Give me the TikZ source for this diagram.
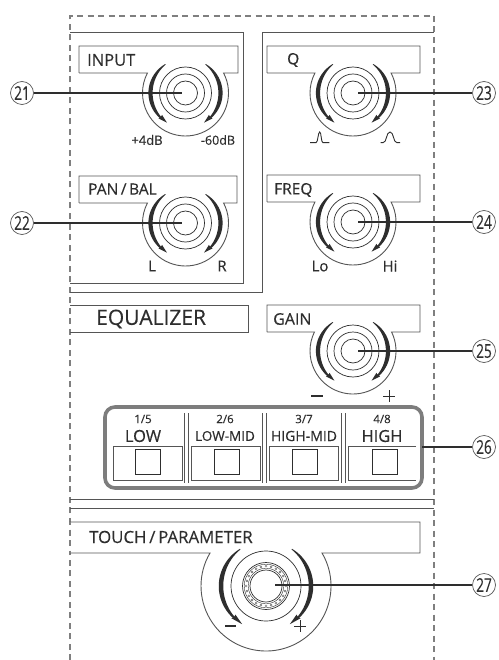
\documentclass[tikz,border=0pt]{standalone}
\usepackage{fontspec}
\setmainfont[FakeBold=0.3]{Open Sans}
\newcommand{\fs}[1]{\fontsize{#1}{#1}\selectfont}
\definecolor{ink}{HTML}{2E2E2E}
\definecolor{boxline}{HTML}{555555}
\definecolor{dashc}{HTML}{7F7F7F}
\definecolor{bezel}{HTML}{7D7D7D}
\tikzset{
  panel/.style={draw=boxline,line width=0.9pt},
  thin ring/.style={draw=ink,line width=0.7pt},
  leader/.style={draw=ink,line width=1.2pt},
  callout/.style={circle,draw=ink!80,line width=0.7pt,minimum size=23pt,inner sep=0pt,text=ink},
  lab/.style={inner sep=0pt,text=ink,font=\fs{15}},
  title/.style={inner sep=0pt,text=ink,anchor=west,font=\fs{15.5}},
  outline/.style={draw=dashc,line width=1.4pt,dash pattern=on 6pt off 4.5pt},
}
\newcommand{\num}[1]{\fs{19}\scalebox{.72}[1]{#1}}
% #1 cx #2 cy #3 R #4 max width #5 side (+1 left, -1 right)
\newcommand{\tharc}[5]{%
  \fill[ink] plot[domain=-55:44,samples=24]
    ({#1-#5*(#3+#4/2*cos(1.45*\x))*cos(\x)},{#2+(#3+#4/2*cos(1.45*\x))*sin(\x)})
    -- ({#1-#5*(#3+#4*0.5)*cos(43)},{#2+(#3+#4*0.5)*sin(43)})
    -- ({#1-#5*#3*cos(58)},{#2+#3*sin(58)})
    -- ({#1-#5*(#3-#4*0.7)*cos(43)},{#2+(#3-#4*0.7)*sin(43)})
    -- plot[domain=44:-55,samples=24]
    ({#1-#5*(#3-#4/2*cos(1.45*\x))*cos(\x)},{#2+(#3-#4/2*cos(1.45*\x))*sin(\x)})
    -- cycle;}
% #1 l #2 t #3 r #4 b #5 cx #6 cy #7 R
\newcommand{\notchbox}[7]{%
  \pgfmathsetmacro{\aa}{asin((#4-#6)/#7)}%
  \pgfmathsetmacro{\ab}{180-\aa}%
  \pgfmathsetmacro{\sx}{#5+#7*cos(\aa)}%
  \draw[panel] (#1,#4) -- (#1,#2) -- (#3,#2) -- (#3,#4) -- (\sx,#4)
    arc[start angle=\aa,end angle=\ab,radius=#7] -- (#1,#4);}
\newcommand{\knob}[2]{%
  \draw[thin ring] (#1,#2) circle[radius=26];
  \draw[thin ring] (#1,#2) circle[radius=19];
  \draw[thin ring] (#1,#2) circle[radius=12];
  \tharc{#1}{#2}{35}{4.2}{1}
  \tharc{#1}{#2}{35}{4.2}{-1}}
\begin{document}
\begin{tikzpicture}[x=1pt,y=1pt,yscale=-1]
\useasboundingbox (0,0) rectangle (498,660);
\fill[white] (0,0) rectangle (498,660);
% dashed outline
\draw[outline] (70,660) -- (70,16) -- (434,16) -- (434,660);
% panels
\draw[panel] (70,32) -- (243,32) -- (243,283) -- (70,283);
\draw[panel] (70,292) -- (262,292) -- (262,32) -- (434,32);
\draw[panel] (70,499) -- (434,499);
\draw[panel] (70,508) -- (434,508);
% INPUT
\notchbox{79}{46}{238}{73}{185.5}{93}{43}
\knob{185.5}{93}
\node[title,font=\fs{16.5}] (tinput) at (87,60) {INPUT};
\node[lab,font=\fs{13}] (lp4) at (147,140) {+4dB};
\node[lab,font=\fs{12.5}] (lm60) at (218,140) {-60dB};
% PAN/BAL
\notchbox{79}{176}{237}{203}{185.5}{223}{43}
\knob{185.5}{223}
\node[title] (tpan) at (88,189) {PAN\,/\,BAL};
\node[lab] (ll) at (152,266) {L};
\node[lab] (lr) at (222,266) {R};
% Q
\notchbox{267}{46}{420}{73}{353}{93}{43}
\knob{353}{93}
\node[title] (tq) at (287,60) {Q};
\draw[ink,line width=0.9pt] (310,142.7) -- (316,142.7) .. controls (318,142.7) and (318,132) .. (319.7,132) .. controls (321.4,132) and (321,142.7) .. (323,142.7) -- (329.3,142.7);
\draw[ink,line width=0.9pt] (380.7,142.7) -- (383,142.7) .. controls (387,142.7) and (386,132) .. (390,132) .. controls (394,132) and (393,142.7) .. (397,142.7) -- (400,142.7);
% FREQ
\notchbox{267}{175}{420}{202}{353}{222}{43}
\knob{353}{222}
\node[title] (tfreq) at (274,190) {FREQ};
\node[lab] (llo) at (320,266) {Lo};
\node[lab] (lhi) at (390,266) {Hi};
% EQUALIZER
\draw[panel] (70,305) -- (248,305) -- (248,332) -- (70,332);
\node[title,font=\fs{21}] (teq) at (96,319) {EQUALIZER};
% GAIN
\notchbox{267}{305}{420}{332}{353}{351}{43}
\knob{353}{351}
\node[title,font=\fs{16}] (tgain) at (273,319) {GAIN};
\draw[ink,line width=1.6pt] (311,396) -- (323,396);
\draw[ink,line width=0.9pt] (383,396) -- (395,396) (389,390) -- (389,402);
% button bank
\draw[draw=bezel,line width=3.6pt,rounded corners=10pt] (105,407) rectangle (422,488);
\foreach \xa in {184,188,262,266,341,345} {\draw[boxline,line width=0.8pt] (\xa,413) -- (\xa,483);}
\foreach \xl/\xr/\sl in {113/182/135,191/260/214,269/338/292} {
  \draw[panel] (\xl,480) -- (\xl,446) -- (\xr,446) -- (\xr,480) -- (\xl,480);
  \draw[ink,line width=0.8pt] (\sl,449) rectangle ++(25,25);
}
\draw[panel] (416,446) -- (348,446) -- (348,480) -- (416,480);
\draw[ink,line width=0.8pt] (372,449) rectangle ++(25,25);
\node[lab,font=\fs{11.5}] (b1a) at (143,419) {1/5};
\node[lab,font=\fs{16.5}] (b1b) at (143,436) {LOW};
\node[lab,font=\fs{11.5}] (b2a) at (225,419) {2/6};
\node[lab,font=\fs{13.5}] (b2b) at (225,436) {LOW-MID};
\node[lab,font=\fs{11.5}] (b3a) at (304,419) {3/7};
\node[lab,font=\fs{14}] (b3b) at (304,436) {HIGH-MID};
\node[lab,font=\fs{11.5}] (b4a) at (382,419) {4/8};
\node[lab,font=\fs{16.5}] (b4b) at (382,436) {HIGH};
% TOUCH
\notchbox{70}{522}{420}{553}{266}{586}{65}
\fill[white] (68,523) rectangle (71.2,552);
\draw[outline,dash phase=3pt] (70,522) -- (70,553);
\node[title,font=\fs{16.8}] (ttouch) at (89,537) {TOUCH\,/\,PARAMETER};
\draw[thin ring] (266,586) circle[radius=35];
\draw[thin ring] (266,586) circle[radius=23.5];
\draw[thin ring,line width=0.4pt] (266,586) circle[radius=21.8];
\draw[thin ring,line width=0.4pt] (266,586) circle[radius=17.8];
\draw[thin ring] (266,586) circle[radius=16];
\foreach \t in {0,15,...,345} {\draw[ink!70,line width=0.4pt] ({266+19.8*cos(\t)},{586+19.8*sin(\t)}) circle[radius=1];}
\tharc{266}{586}{45}{4.5}{1}
\tharc{266}{586}{45}{4.5}{-1}
\draw[ink,line width=1.6pt] (225,626) -- (236,626);
\draw[ink,line width=0.9pt] (294,626) -- (306,626) (300,620) -- (300,632);
% connection points
\coordinate (k21) at (182,93);
\coordinate (k22) at (182,223);
\coordinate (k23) at (358,93);
\coordinate (k24) at (358,222);
\coordinate (k25) at (358,351);
\coordinate (k26) at (422,447);
\coordinate (k27) at (275,585);
% callouts
\node[callout] (n21) at (22,93) {\num{21}};
\node[callout] (n22) at (22,223) {\num{22}};
\node[callout] (n23) at (484,93) {\num{23}};
\node[callout] (n24) at (484,222) {\num{24}};
\node[callout] (n25) at (484,351) {\num{25}};
\node[callout] (n26) at (484,447) {\num{26}};
\node[callout] (n27) at (484,585) {\num{27}};
\draw[leader] (n21) -- (k21);
\draw[leader] (n22) -- (k22);
\draw[leader] (n23) -- (k23);
\draw[leader] (n24) -- (k24);
\draw[leader] (n25) -- (k25);
\draw[leader] (n26) -- (k26);
\draw[leader] (n27) -- (k27);
\end{tikzpicture}
\end{document}
